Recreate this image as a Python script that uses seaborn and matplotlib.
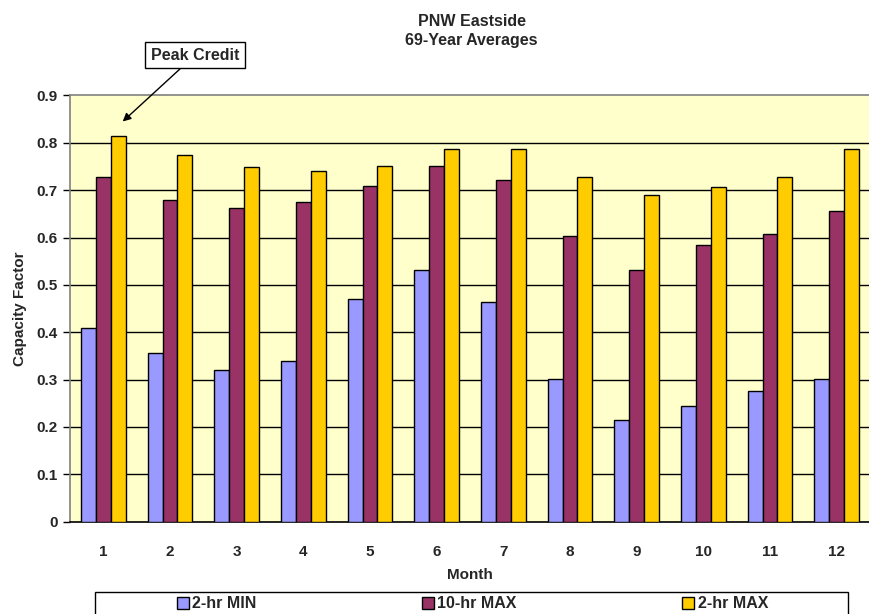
import pandas as pd
import numpy as np
import matplotlib
matplotlib.use("Agg")
import matplotlib.pyplot as plt
import seaborn as sns
from matplotlib.patches import Patch, Rectangle

# Data
months = ["1", "2", "3", "4", "5", "6", "7", "8", "9", "10", "11", "12"]
min_2hr = [0.409, 0.356, 0.321, 0.340, 0.471, 0.531, 0.464, 0.302, 0.214, 0.245, 0.276, 0.301]
max_10hr = [0.728, 0.680, 0.662, 0.675, 0.708, 0.751, 0.722, 0.603, 0.531, 0.584, 0.608, 0.657]
max_2hr = [0.815, 0.775, 0.748, 0.741, 0.751, 0.786, 0.786, 0.728, 0.690, 0.707, 0.727, 0.786]
series = ["2-hr MIN", "10-hr MAX", "2-hr MAX"]
colors = ["#9999FF", "#993366", "#FFCC00"]

df = pd.DataFrame({"Month": months, "2-hr MIN": min_2hr,
                   "10-hr MAX": max_10hr, "2-hr MAX": max_2hr})
long_df = df.melt(id_vars="Month", var_name="Series", value_name="Value")

sns.set_style("white")
plt.rcParams["font.family"] = ["Liberation Sans", "DejaVu Sans"]
plt.rcParams["font.weight"] = "bold"

fig = plt.figure(figsize=(8.7, 6.14), dpi=100)
ax = fig.add_axes([0.0805, 0.1503, 0.9195, 0.6942])
ax.set_facecolor("#FFFFCC")

sns.barplot(data=long_df, x="Month", y="Value", hue="Series", hue_order=series,
            palette=colors, width=0.67, gap=0, edgecolor="black", linewidth=1,
            saturation=1, legend=False, ax=ax, zorder=3)

# Grid and axes
ax.set_ylim(0, 0.9)
ax.set_xlim(-0.5, 11.37)
ax.set_yticks(np.arange(0, 0.91, 0.1))
ax.set_yticklabels(["0"] + ["%.1f" % v for v in np.arange(0.1, 0.91, 0.1)],
                   fontsize=11, fontweight="bold")
for v in np.arange(0.1, 0.85, 0.1):
    ax.axhline(v, color="black", linewidth=1, zorder=1)
ax.set_xticks(range(12))
ax.set_xticklabels(months, fontsize=11, fontweight="bold")
ax.set_xticks(np.arange(-0.5, 12, 1), minor=True)
ax.tick_params(axis="x", which="major", length=0, pad=17)
ax.tick_params(axis="x", which="minor", length=5, width=1, color="black", direction="out")
ax.tick_params(axis="y", length=5, width=1, color="black", direction="out", left=True, pad=4)

ax.spines["top"].set_color("#808080")
ax.spines["left"].set_color("#808080")
ax.spines["bottom"].set_color("black")
ax.spines["right"].set_visible(False)
for s in ax.spines.values():
    s.set_linewidth(1.2)

ax.set_xlabel("Month", fontsize=11, fontweight="bold", labelpad=6)
ax.set_ylabel("Capacity Factor", fontsize=11, fontweight="bold", labelpad=7)

fig.text(0.542, 0.9495, "PNW Eastside\n69-Year Averages", ha="center", va="center",
         fontsize=11.5, fontweight="bold", linespacing=1.35)

# Peak Credit callout
ax.annotate("Peak Credit", xy=(0.29, 0.845), xycoords="data",
            xytext=(0.224, 0.910), textcoords="figure fraction",
            ha="center", va="center", fontsize=11.5, fontweight="bold",
            bbox=dict(boxstyle="square,pad=0.35", fc="white", ec="black", lw=1),
            arrowprops=dict(arrowstyle="-|>", color="black", lw=1,
                            mutation_scale=12, shrinkA=0, shrinkB=0))

# Legend
fig.patches.append(Rectangle((95 / 870, -0.02), (848 - 95) / 870, 1 - 592 / 614 + 0.02,
                             transform=fig.transFigure, fc="white", ec="black",
                             lw=1, zorder=0))
handles = [Patch(facecolor=c, edgecolor="black", lw=1) for c in colors]
fig.legend(handles, series, loc="center", ncol=3, mode="expand", frameon=False,
           bbox_to_anchor=(177 / 870, 1 - 612 / 614, (768 - 177) / 870, 16 / 614),
           prop={"weight": "bold", "size": 11.5},
           handlelength=0.75, handleheight=0.75, handletextpad=0.2,
           borderpad=0, borderaxespad=0)

fig.savefig("out.png", dpi=100)
